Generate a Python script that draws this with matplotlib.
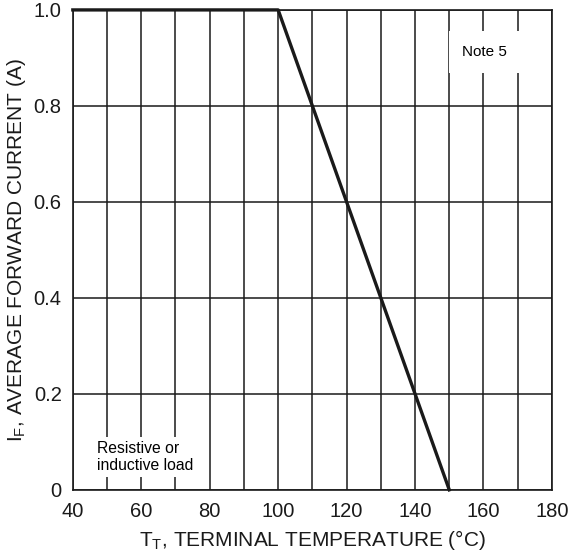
import numpy as np
import matplotlib.pyplot as plt

plt.rcParams['font.family'] = ['Liberation Sans', 'DejaVu Sans']
plt.rcParams['mathtext.fontset'] = 'custom'
plt.rcParams['mathtext.rm'] = 'Liberation Sans'
plt.rcParams['mathtext.it'] = 'Liberation Sans'

# curva de derating
temp = [40, 100, 150]
corriente = [1.0, 1.0, 0.0]

xticks = [40, 60, 80, 100, 120, 140, 160, 180]
xminor = [50, 70, 90, 110, 130, 150, 170]
yticks = [0, 0.2, 0.4, 0.6, 0.8, 1.0]
ylabels = ['0', '0.2', '0.4', '0.6', '0.8', '1.0']

fig = plt.figure(figsize=(5.69, 5.51), dpi=100)
ax = fig.add_axes([0.128, 0.111, 0.842, 0.871])

ax.plot(temp, corriente, color='#1a1a1a', lw=2.4, zorder=3, clip_on=False)

ax.set_xlim(40, 180)
ax.set_ylim(0, 1.0)
ax.set_xticks(xticks)
ax.set_xticks(xminor, minor=True)
ax.set_yticks(yticks)
ax.set_yticklabels(ylabels)
ax.tick_params(which='both', length=0, labelsize=14.5, colors='#1a1a1a')
ax.tick_params(axis='x', pad=9)
ax.tick_params(axis='y', pad=8)
ax.grid(True, which='both', color='#1a1a1a', lw=1.1)
for s in ax.spines.values():
    s.set_linewidth(1.2)
    s.set_color('#1a1a1a')

ax.set_xlabel(r'T$_\mathregular{T}$, TERMINAL TEMPERATURE (°C)', fontsize=15, labelpad=5, color='#1a1a1a')
ax.set_ylabel(r'I$_\mathregular{F}$, AVERAGE FORWARD CURRENT (A)', fontsize=15, labelpad=4, color='#1a1a1a')

ax.text(160.4, 0.9125, 'Note 5', fontsize=11, ha='center', va='center',
        bbox=dict(facecolor='white', edgecolor='none', pad=10), zorder=4)
ax.text(47, 0.069, 'Resistive or\ninductive load', fontsize=11.3, ha='left', va='center',
        linespacing=1.15, bbox=dict(facecolor='white', edgecolor='none', pad=3), zorder=4)

fig.savefig('out.png', dpi=100)
